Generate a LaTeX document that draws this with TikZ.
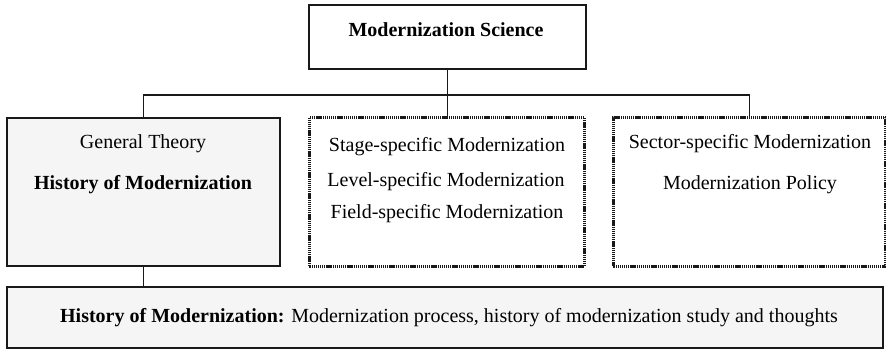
\documentclass[tikz,border=0pt]{standalone}
\usepackage{fontspec}
\setmainfont{Liberation Serif}
\begin{document}
\begin{tikzpicture}[x=1pt,y=-1pt,
  box/.style={draw=black!90, line width=2pt, rectangle, inner sep=0pt, anchor=north west},
  shaded/.style={box, fill=black!4},
  dotbox/.style={draw=black!90, line width=2.8pt, dash pattern=on 1.3pt off 0.8pt, rectangle, inner sep=0pt, anchor=north west},
  txt/.style={font=\fontsize{20}{22}\selectfont, anchor=base, inner sep=0pt},
  btxt/.style={txt, font=\fontsize{20}{22}\selectfont\bfseries},
  link/.style={draw=black!90, line width=1.7pt}]
\useasboundingbox (0,0) rectangle (886,350);

% boxes
\node[box, minimum width=277pt, minimum height=64pt] (top) at (308,4) {};
\node[shaded, minimum width=273pt, minimum height=148pt] (gen) at (6,117) {};
\node[dotbox, minimum width=275pt, minimum height=149pt] (mid) at (308,116) {};
\node[dotbox, minimum width=272pt, minimum height=149pt] (sec) at (612,116) {};
\node[shaded, minimum width=876pt, minimum height=61pt] (hist) at (6,286) {};

% texts
\node[btxt] (t0) at (446,37) {Modernization Science};
\node[txt] (g1) at (143,149) {General Theory};
\node[btxt] (g2) at (143,189) {History of Modernization};
\node[txt] (m1) at (447,152) {Stage-specific Modernization};
\node[txt] (m2) at (446,186) {Level-specific Modernization};
\node[txt] (m3) at (447,218) {Field-specific Modernization};
\node[txt] (s1) at (750,149) {Sector-specific Modernization};
\node[txt] (s2) at (750,189) {Modernization Policy};
\node[txt] (h1) at (449,322) {\textbf{History of Modernization:} Modernization process, history of modernization study and thoughts};

% connectors
\coordinate (bus) at (446,95);
\draw[link] (top.south) -- (top.south |- mid.north);
\draw[link] (gen.north) |- (sec.north |- bus) -- (sec.north);
\draw[link] (gen.south) -- (gen.south |- hist.north);
\end{tikzpicture}
\end{document}
